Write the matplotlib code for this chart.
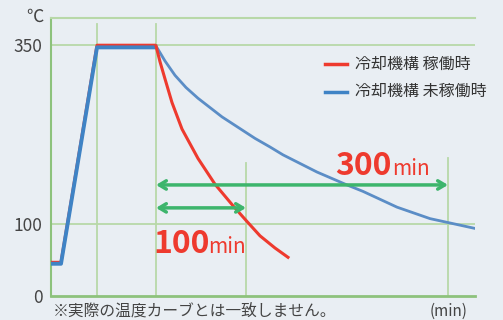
import matplotlib.pyplot as plt
import matplotlib
matplotlib.rcParams['font.family'] = ['Noto Sans CJK JP', 'DejaVu Sans']

# 温度プロファイル（横軸は任意単位）
heat_t = [0, 10, 46, 105]
heat_red = [47, 47, 350, 350]
heat_blue = [45, 45, 347, 347]

cool_red_t = [105, 109, 114, 121, 131, 147, 164, 182, 196, 209, 224, 237]
cool_red = [349, 327, 303, 270, 233, 192, 156, 126, 104, 84, 67, 54]

cool_blue_t = [105, 114, 124, 135, 147, 171, 204, 219, 232, 266, 296, 312, 346, 379, 425]
cool_blue = [349, 328, 308, 291, 276, 250, 220, 208, 197, 173, 155, 146, 124, 108, 94]

grid_t = [46, 105, 195, 397]
grid_top = [380, 380, 186, 193]
yticks = [0, 100, 350]

arrow_100 = (105, 195, 123)
arrow_300 = (105, 397, 155)

red = '#ee3a2e'
blue = '#3f83c5'
blue_light = '#5b8dc6'
green = '#3db56c'
grid_c = '#b8d8a8'
axis_c = '#8dc27c'
bg = '#e9eef3'

fig = plt.figure(figsize=(5.03, 3.2), dpi=100)
fig.patch.set_facecolor(bg)
ax = fig.add_axes([51/503, 24/320, 424/503, 278/320])
ax.set_facecolor(bg)
ax.set_xlim(0, 424)
ax.set_ylim(0, 388)

ax.spines['right'].set_visible(False)
ax.spines['top'].set_color(grid_c)
ax.spines['top'].set_linewidth(1.5)
ax.spines['left'].set_color(axis_c)
ax.spines['bottom'].set_color(axis_c)
ax.spines['left'].set_linewidth(1.5)
ax.spines['bottom'].set_linewidth(2)

ax.set_xticks([])
ax.set_yticks(yticks)
ax.set_yticklabels([str(v) for v in yticks], fontsize=12.5, color='#444444')
ax.tick_params(axis='y', length=0, pad=6)

# グリッド
for v in [100, 350]:
    ax.axhline(v, color=grid_c, lw=1.3, zorder=1)
for t, top in zip(grid_t, grid_top):
    ax.plot([t, t], [0, top], color=grid_c, lw=1.3, zorder=1)

# 温度曲線
ax.plot(heat_t, heat_red, color=red, lw=2.2, zorder=3, solid_capstyle='butt')
ax.plot(heat_t, heat_blue, color=blue, lw=2.8, zorder=4, solid_capstyle='butt')
ax.plot(cool_blue_t, cool_blue, color=blue_light, lw=2, zorder=3)
ax.plot(cool_red_t, cool_red, color=red, lw=2.2, zorder=4)

# 矢印
for a in [arrow_100, arrow_300]:
    ax.annotate('', xy=(a[1], a[2]), xytext=(a[0], a[2]),
                arrowprops=dict(arrowstyle='<->, head_length=0.5, head_width=0.3',
                                color=green, lw=2.5, shrinkA=0, shrinkB=0), zorder=5)

ax.text(102, 60, '100', color=red, fontsize=23, fontweight='bold', ha='left', va='baseline')
ax.text(157, 60, 'min', color=red, fontsize=15, ha='left', va='baseline')
ax.text(284, 169, '300', color=red, fontsize=23, fontweight='bold', ha='left', va='baseline')
ax.text(341, 169, 'min', color=red, fontsize=15, ha='left', va='baseline')

# 凡例
ax.plot([274, 296], [324, 324], color=red, lw=2.5)
ax.plot([274, 296], [285, 285], color=blue, lw=2.5)
ax.text(304, 324, '冷却機構 稼働時', fontsize=11.5, color='#333333', va='center')
ax.text(304, 285, '冷却機構 未稼働時', fontsize=11.5, color='#333333', va='center')

fig.text(35/503, 1 - 17/320, '℃', fontsize=12.5, color='#444444', ha='center', va='center')
fig.text(53/503, 1 - 311/320, '※実際の温度カーブとは一致しません。', fontsize=11.3, color='#444444',
         ha='left', va='center')
fig.text(449/503, 1 - 311/320, '(min)', fontsize=11, color='#444444', ha='center', va='center')

plt.savefig('out.png', dpi=100, facecolor=bg)
